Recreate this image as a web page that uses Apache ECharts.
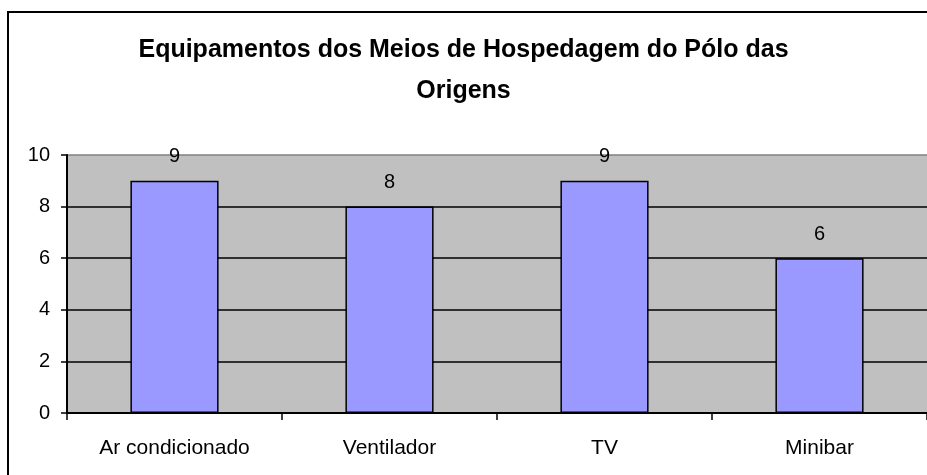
<!DOCTYPE html>
<html>
<head>
<meta charset="utf-8">
<script src="https://cdn.jsdelivr.net/npm/echarts@6/dist/echarts.min.js"></script>
<style>
  html, body { margin: 0; padding: 0; background: #fff; }
  #chart { width: 927px; height: 475px; }
</style>
</head>
<body>
<div id="chart"></div>
<script>
// Equipment counts per category
const categories = ['Ar condicionado', 'Ventilador', 'TV', 'Minibar'];
const counts = [9, 8, 9, 6];
const yTicks = { min: 0, max: 10, interval: 2 };

const chart = echarts.init(document.getElementById('chart'));
const font = '"Liberation Sans", Arial, sans-serif';

chart.setOption({
  animation: false,
  backgroundColor: '#ffffff',
  title: {
    text: 'Equipamentos dos Meios de Hospedagem do Pólo das\nOrigens',
    left: 'center',
    top: 25,
    textStyle: { fontFamily: font, fontSize: 25, fontWeight: 'bold', color: '#000', lineHeight: 41 }
  },
  // outer chart frame, running past the right and bottom edges
  graphic: [{
    type: 'rect',
    shape: { x: 8, y: 12, width: 940, height: 490 },
    style: { fill: 'none', stroke: '#000', lineWidth: 2 },
    silent: true
  }],
  grid: {
    left: 67, top: 155, right: 0, bottom: 62,
    show: true, backgroundColor: '#C0C0C0', borderWidth: 0
  },
  xAxis: {
    type: 'category',
    data: categories,
    axisLine: { lineStyle: { color: '#000', width: 2 } },
    axisTick: { show: true, length: 7, lineStyle: { color: '#000', width: 1.5 } },
    axisLabel: { fontFamily: font, fontSize: 21, color: '#000', margin: 25 }
  },
  yAxis: {
    type: 'value',
    min: yTicks.min, max: yTicks.max, interval: yTicks.interval,
    axisLine: { show: true, lineStyle: { color: '#000', width: 2 } },
    axisTick: { show: true, length: 6, lineStyle: { color: '#000', width: 1.5 } },
    axisLabel: { fontFamily: font, fontSize: 20, color: '#000', margin: 17 },
    splitLine: { show: true, lineStyle: { color: ['#000', '#000', '#000', '#000', '#000', '#808080'], width: 1.5 } }
  },
  series: [{
    type: 'bar',
    data: counts,
    barWidth: '41%',
    itemStyle: { color: '#9999FF', borderColor: '#000', borderWidth: 1.5 },
    label: {
      show: true, position: 'top', distance: 14,
      fontFamily: font, fontSize: 20, color: '#000'
    }
  }]
});
</script>
</body>
</html>
